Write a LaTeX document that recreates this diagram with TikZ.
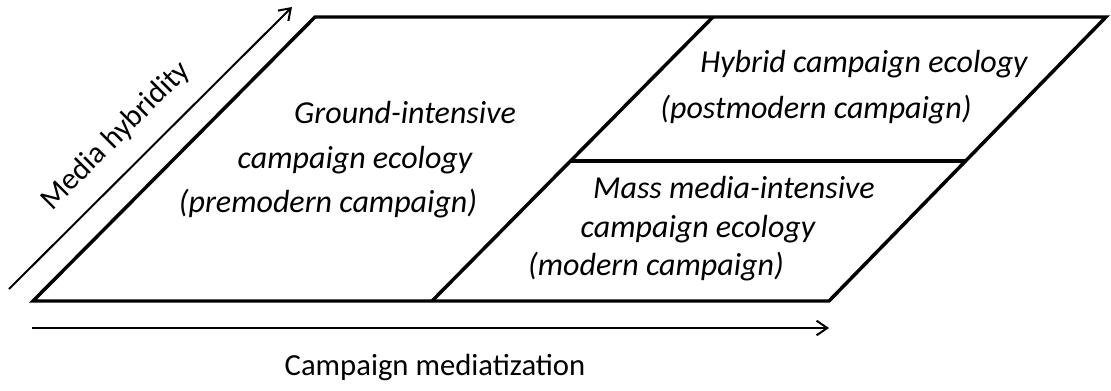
\documentclass[tikz,border=0pt]{standalone}
\usepackage{fontspec}
\setmainfont{Carlito}
\usetikzlibrary{arrows.meta}

\begin{document}
\begin{tikzpicture}[x=0.75pt, y=-0.75pt,
  frame/.style={line width=2.6pt},
  axis/.style={line width=1.5pt, -{Straight Barb[length=8pt,width=11pt,line width=1.5pt]}},
  zone/.style={font=\fontsize{24}{28}\selectfont\itshape, anchor=base, inner sep=0pt},
  axislabel/.style={font=\fontsize{23}{27}\selectfont, inner sep=0pt}]
  \useasboundingbox (0,0) rectangle (1111,390);
  % corners of the plane
  \coordinate (bl) at (33,301);
  \coordinate (br) at (829,301);
  \coordinate (tr) at (1106,17);
  \coordinate (tl) at (315,17);
  \coordinate (mb) at (432,301);
  \coordinate (mt) at (713,17);
  \coordinate (ml) at (571,161);
  \coordinate (mr) at (966,161);
  \draw[frame] (bl) -- (br) -- (tr) -- (tl) -- cycle;
  \draw[frame] (mb) -- (mt);
  \draw[frame] (ml) -- (mr);
  % axes
  \coordinate (v0) at (9,289);
  \coordinate (v1) at (292,7);
  \coordinate (h0) at (32,328);
  \coordinate (h1) at (829,328);
  \draw[axis] (v0) -- (v1);
  \draw[axis] (h0) -- (h1);
  \node[axislabel, rotate=45] (vlab) at (116,136) {Media hybridity};
  \node[axislabel, anchor=base] (hlab) at (435,375) {Campaign mediatization};
  % zones
  \node[zone] (g1) at (405,123) {Ground-intensive};
  \node[zone] (g2) at (355,168) {campaign ecology};
  \node[zone] (g3) at (328,212) {(premodern campaign)};
  \node[zone] (h1t) at (864,72) {Hybrid campaign ecology};
  \node[zone] (h2t) at (816,118) {(postmodern campaign)};
  \node[zone] (m1) at (734,198) {Mass media-intensive};
  \node[zone] (m2) at (698,237) {campaign ecology};
  \node[zone] (m3) at (656,275) {(modern campaign)};
\end{tikzpicture}
\end{document}
